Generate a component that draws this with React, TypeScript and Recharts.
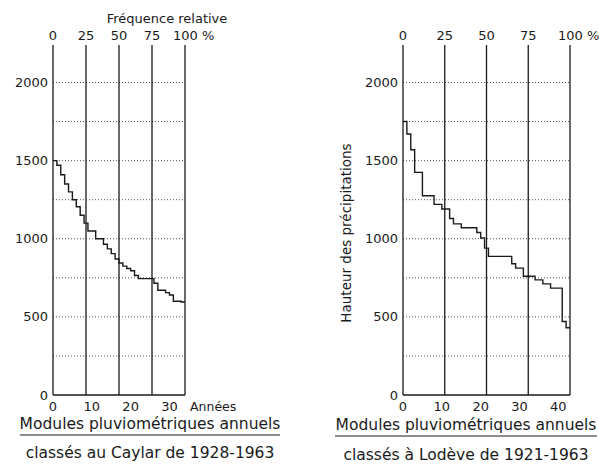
import { LineChart, Line, XAxis, YAxis, ReferenceLine } from "recharts";

// annual rainfall (mm), ranked from wettest to driest
const caylarValues = [
  1500, 1470, 1410, 1350, 1300, 1250, 1205, 1150, 1100, 1050, 1050, 1000,
  1000, 965, 935, 905, 870, 845, 825, 810, 795, 765, 745, 745, 745, 745, 715,
  670, 670, 655, 640, 600, 600, 595,
];
const lodeveValues = [
  1750, 1670, 1570, 1425, 1425, 1275, 1275, 1275, 1220, 1220, 1190, 1190,
  1130, 1095, 1095, 1070, 1070, 1070, 1070, 1040, 1005, 940, 887, 887, 887,
  887, 887, 887, 840, 812, 812, 760, 760, 760, 737, 737, 711, 711, 684, 684,
  684, 470, 430,
];

const yTicks = [0, 500, 1000, 1500, 2000];
const gridLevels = [250, 500, 750, 1000, 1250, 1500, 1750, 2000];
const pctTicks = [0, 25, 50, 75, 100];
const pctLines = [25, 50, 75, 100];
const caylarYearTicks = [0, 10, 20, 30];
const lodeveYearTicks = [0, 10, 20, 30, 40];

const FONT = '"DejaVu Sans", sans-serif';
const INK = "#1a1a1a";
const tickStyle = { fontSize: 13, fill: INK, fontFamily: FONT };

// one row per year plus a closing row so the last step is drawn to the end
function toSteps(values: number[]) {
  const n = values.length;
  const rows = values.map((v, i) => ({ year: i, pct: (i / n) * 100, value: v }));
  rows.push({ year: n, pct: 100, value: values[n - 1] });
  return rows;
}

function PctTick({ x, y, payload }: any) {
  const last = payload.value === 100;
  return (
    <text
      x={last ? x - 12 : x}
      y={y}
      textAnchor={last ? "start" : "middle"}
      fontSize={13}
      fontFamily={FONT}
      fill={INK}
    >
      {last ? "100 %" : payload.value}
    </text>
  );
}

function Panel({ values, yearTicks, margin, yWidth }: any) {
  const data = toSteps(values);
  return (
    <LineChart width={300} height={464} data={data} margin={margin}>
      <XAxis
        dataKey="year"
        type="number"
        domain={[0, values.length]}
        ticks={yearTicks}
        interval={0}
        axisLine={{ stroke: INK, strokeWidth: 1.3 }}
        tickLine={false}
        tickSize={5}
        tickMargin={2}
        height={20}
        tick={tickStyle}
      />
      <XAxis
        xAxisId="pct"
        dataKey="pct"
        orientation="top"
        type="number"
        domain={[0, 100]}
        allowDataOverflow
        ticks={pctTicks}
        interval={0}
        axisLine={false}
        tickLine={false}
        tickSize={3}
        tickMargin={2}
        height={20}
        tick={<PctTick />}
      />
      <YAxis
        type="number"
        domain={[0, 2240]}
        ticks={yTicks}
        interval={0}
        width={yWidth}
        axisLine={{ stroke: INK, strokeWidth: 1.3 }}
        tickLine={false}
        tickSize={3}
        tickMargin={2}
        tick={tickStyle}
      />
      {gridLevels.map((v) => (
        <ReferenceLine key={v} y={v} stroke="#555" strokeDasharray="1 2" />
      ))}
      {pctLines.map((p) => (
        <ReferenceLine key={p} xAxisId="pct" x={p} stroke={INK} strokeWidth={1.3} />
      ))}
      <Line
        type="stepAfter"
        dataKey="value"
        stroke={INK}
        strokeWidth={1.4}
        dot={false}
        isAnimationActive={false}
      />
    </LineChart>
  );
}

export default function App() {
  return (
    <div
      style={{
        position: "absolute",
        left: 0,
        top: 0,
        width: 599,
        height: 464,
        background: "#fff",
        overflow: "hidden",
      }}
    >
      <div style={{ position: "absolute", left: 0, top: 0 }}>
        <Panel
          values={caylarValues}
          yearTicks={caylarYearTicks}
          yWidth={45}
          margin={{ top: 25, right: 115, bottom: 49, left: 8 }}
        />
      </div>
      <div style={{ position: "absolute", left: 300, top: 0 }}>
        <Panel
          values={lodeveValues}
          yearTicks={lodeveYearTicks}
          yWidth={50}
          margin={{ top: 25, right: 30, bottom: 49, left: 53 }}
        />
      </div>
      <svg
        width={599}
        height={464}
        style={{ position: "absolute", left: 0, top: 0, pointerEvents: "none" }}
        fontFamily={FONT}
        fill={INK}
      >
        <text x={167} y={23} fontSize={13} textAnchor="middle">
          Fréquence relative
        </text>
        <text x={190} y={411} fontSize={12.5}>
          Années
        </text>
        <text
          x={346}
          y={233}
          fontSize={13.5}
          textAnchor="middle"
          transform="rotate(-90 346 233)"
          dominantBaseline="central"
        >
          Hauteur des précipitations
        </text>
        <text x={150} y={429} fontSize={15.5} textAnchor="middle">
          Modules pluviométriques annuels
        </text>
        <line x1={20} x2={280} y1={435} y2={435} stroke={INK} strokeWidth={1} />
        <text x={150} y={458} fontSize={15.5} textAnchor="middle">
          classés au Caylar de 1928-1963
        </text>
        <text x={466} y={430} fontSize={15.5} textAnchor="middle">
          Modules pluviométriques annuels
        </text>
        <line x1={335} x2={597} y1={436} y2={436} stroke={INK} strokeWidth={1} />
        <text x={466} y={460} fontSize={15.5} textAnchor="middle">
          classés à Lodève de 1921-1963
        </text>
      </svg>
    </div>
  );
}
